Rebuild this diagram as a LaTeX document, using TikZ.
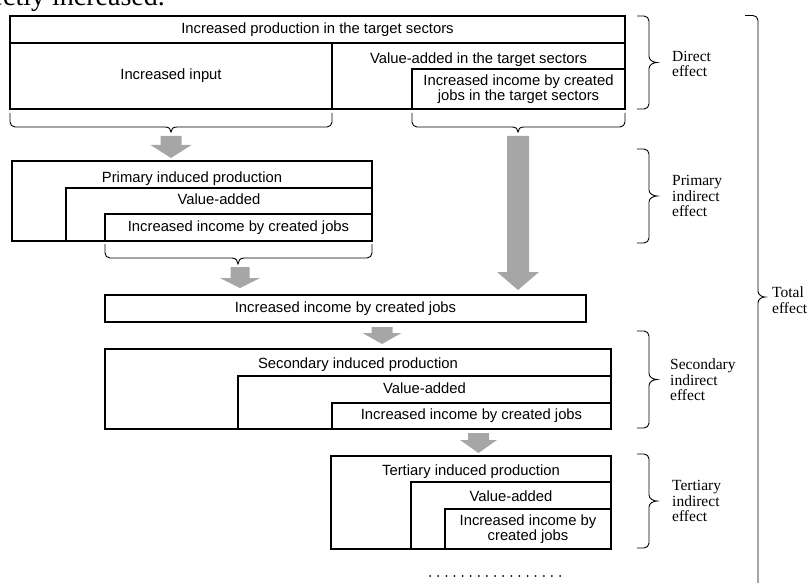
\documentclass[tikz,border=0pt]{standalone}
\usepackage{fontspec}
\setmainfont{Liberation Serif}
\setsansfont{Liberation Sans}
\definecolor{arrowgray}{RGB}{166,166,166}
\newcommand\hbr[6]{% xl xr yend yflat ytip xmid
 \draw[brc] (#1,#3) -- (#1,{#4-5}) .. controls (#1,{#4-2.24}) and ({#1+2.24},#4) .. ({#1+5},#4) -- ({#6-6},#4) .. controls ({#6-2},#4) and (#6,{#5-3}) .. (#6,#5) .. controls (#6,{#5-3}) and ({#6+2},#4) .. ({#6+6},#4) -- ({#2-5},#4) .. controls ({#2-2.24},#4) and (#2,{#4-2.24}) .. (#2,{#4-5}) -- (#2,#3);}
\newcommand\vbr[6]{% xend xspine xtip ytop ybot ymid
 \draw[brc] (#1,#4) -- ({#2-5},#4) .. controls ({#2-2.24},#4) and (#2,{#4+2.24}) .. (#2,{#4+5}) -- (#2,{#6-6}) .. controls (#2,{#6-2}) and ({#3-3},#6) .. (#3,#6) .. controls ({#3-3},#6) and (#2,{#6+2}) .. (#2,{#6+6}) -- (#2,{#5-5}) .. controls (#2,{#5-2.24}) and ({#2-2.24},#5) .. ({#2-5},#5) -- (#1,#5);}
\newcommand\garr[6]{% xc ytop yhead ytip sw hw
 \fill[arrowgray] ({#1-#5},#2) -- ({#1+#5},#2) -- ({#1+#5},#3) -- ({#1+#6},#3) -- (#1,#4) -- ({#1-#6},#3) -- ({#1-#5},#3) -- cycle;}
\begin{document}
\begin{tikzpicture}[x=1pt,y=-1pt,
 box/.style={draw=black, line width=1.1pt, rectangle, inner sep=0pt, outer sep=0pt, anchor=north west, align=center, font=\sffamily\fontsize{14.8}{15}\selectfont},
 txt/.style={inner sep=0pt, anchor=base, font=\sffamily\fontsize{14.8}{15}\selectfont},
 lbl/.style={inner sep=0pt, anchor=west, align=left, font=\rmfamily\fontsize{15.5}{15.5}\selectfont},
 brc/.style={draw=black, line width=0.9pt}]
\path[use as bounding box] (0,0) rectangle (811,583);
\clip (0,0) rectangle (811,583);

% cut-off text at the top
\node[anchor=base east, inner sep=0pt, font=\rmfamily\fontsize{28}{28}\selectfont] (cut) at (165,5.5) {directly increased.};

% direct effect block
\node[box, minimum width=615pt, minimum height=27pt] (prod) at (10,16) {Increased production in the target sectors};
\node[box, minimum width=322pt, minimum height=66pt] (input) at (10,43) {Increased input};
\node[box, minimum width=293pt, minimum height=66pt] (va) at (332,43) {};
\node[txt] (vat) at (478.5,63.5) {Value-added in the target sectors};
\node[box, minimum width=213pt, minimum height=40pt] (inc) at (412,69) {Increased income by created\\jobs in the target sectors};

\hbr{10}{332}{113}{127}{132}{171}
\hbr{412}{625}{113}{127}{132}{518}
\garr{171}{136}{145}{158}{10.5}{20.5}
\garr{518}{136}{272}{290}{11}{21}

% primary
\node[box, minimum width=360pt, minimum height=80pt] (pri) at (12,161) {};
\node[txt] (prit) at (192,182.5) {Primary induced production};
\node[box, minimum width=306pt, minimum height=53pt] (priva) at (66,188) {};
\node[txt] (privat) at (219,204) {Value-added};
\node[box, minimum width=267pt, minimum height=27pt] (priinc) at (105,214) {Increased income by created jobs};
\hbr{105}{372}{244}{258}{264}{238}
\garr{240}{267}{278}{288}{9.5}{20}

% income
\node[box, minimum width=481pt, minimum height=27pt] (income) at (105,295) {Increased income by created jobs};
\garr{382}{327}{333}{344}{10.5}{19.5}

% secondary
\node[box, minimum width=506pt, minimum height=80pt] (sec) at (105,349) {};
\node[txt] (sect) at (358,368) {Secondary induced production};
\node[box, minimum width=373pt, minimum height=53pt] (secva) at (238,376) {};
\node[txt] (secvat) at (424.5,393) {Value-added};
\node[box, minimum width=279pt, minimum height=26pt] (secinc) at (332,403) {Increased income by created jobs};
\garr{478.5}{433}{440}{453}{10.5}{18.5}

% tertiary
\node[box, minimum width=280pt, minimum height=93pt] (ter) at (331,456) {};
\node[txt] (tert) at (471,475) {Tertiary induced production};
\node[box, minimum width=200pt, minimum height=67pt] (terva) at (411,482) {};
\node[txt] (tervat) at (511,501.5) {Value-added};
\node[box, minimum width=166pt, minimum height=40pt] (terinc) at (445,509) {Increased income by\\created jobs};

% dots
\foreach \i in {0,...,16} \fill ({430+\i*8.125},576) circle (1pt);

% right braces and labels
\vbr{637}{649}{657}{16}{109}{62.5}
\node[lbl] (ldirect) at (672,64) {Direct\\effect};
\vbr{637}{649}{657}{149}{243}{196}
\node[lbl] (lprimary) at (672,196) {Primary\\indirect\\effect};
\vbr{637}{649}{657}{331}{428}{379.5}
\node[lbl] (lsecondary) at (670,380) {Secondary\\indirect\\effect};
\vbr{637}{649}{657}{454}{548}{501}
\node[lbl] (ltertiary) at (672,501) {Tertiary\\indirect\\effect};
\vbr{745}{758}{765}{15.5}{620}{297}
\node[lbl] (ltotal) at (772,300) {Total\\effect};
\end{tikzpicture}
\end{document}
